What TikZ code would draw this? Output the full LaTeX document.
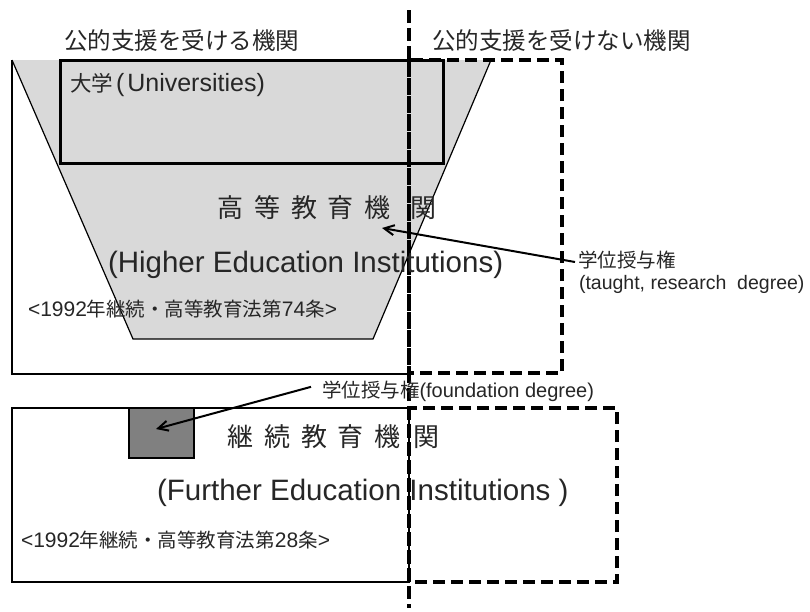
\documentclass[tikz,border=0pt]{standalone}
\usepackage{fontspec}
\setmainfont{Liberation Sans}
\newfontfamily\jp{Noto Sans CJK JP}
\usetikzlibrary{arrows.meta,calc}
\definecolor{lightfill}{HTML}{D9D9D9}
\definecolor{darkfill}{HTML}{808080}
\newcommand{\fsz}[1]{\fontsize{#1}{#1}\selectfont}
\begin{document}
\begin{tikzpicture}[x=1pt,y=-1pt,
  thinline/.style={draw=black,line width=1.2pt},
  univbox/.style={draw=black,line width=3pt},
  dashbox/.style={draw=black,line width=3.5pt,dash pattern=on 12pt off 6pt},
  vdash/.style={draw=black,line width=4pt,dash pattern=on 13pt off 5pt},
  arrowline/.style={draw=black,line width=2pt,-{Straight Barb[length=10pt,width=10pt,line width=2pt]}},
  lbl/.style={inner sep=0pt,outer sep=0pt,text=black!85}]
\useasboundingbox (0,0) rectangle (810,611);
\fill[white] (0,0) rectangle (810,611);
% upper region
\fill[lightfill] (12,60) -- (491,60) -- (373,339) -- (133,339) -- cycle;
\draw[thinline] (12,60) -- (12,374) -- (409,374);
\draw[thinline] (491,60) -- (373,339) -- (133,339) -- (12,60);
\draw[univbox] (60,60) rectangle (443,163);
\draw[dashbox] (409,60) rectangle (562,373);
% lower region
\draw[thinline] (12,408) rectangle (409,582);
\filldraw[fill=darkfill,draw=black,line width=2.5pt] (129,408) rectangle (194,458);
\draw[dashbox] (409,408) rectangle (617,582);
% divider
\draw[vdash] (409,10) -- (409,608);
% texts
\node[lbl,anchor=west] (t1) at (64,41) {\jp\fsz{23.5pt}公的支援を受ける機関};
\node[lbl,anchor=west] (t2) at (432,41) {\jp\fsz{23.5pt}公的支援を受けない機関};
\node[lbl,anchor=base west] (univ) at (70,91) {{\jp\fsz{21.5pt}大学}\hspace{3pt}\fsz{25pt}(\hspace{3pt}Universities)};
\node[lbl,anchor=west] (heiJ) at (217,208) {\jp\fsz{26pt}高\hspace{11pt}等\hspace{11pt}教\hspace{11pt}育\hspace{11pt}機\hspace{20pt}関};
\node[lbl,anchor=base west] (heiE) at (108,272) {\fsz{29.5pt}(Higher Education Institutions)};
\node[lbl,anchor=base west] (law1) at (28,316) {\fsz{21pt}<1992{\jp\fsz{19.5pt}年継続・高等教育法第}74{\jp\fsz{19.5pt}条}>};
\node[lbl,anchor=west] (deg1) at (578,260) {\jp\fsz{19.5pt}学位授与権};
\node[lbl,anchor=base west] (deg1e) at (579,289) {\fsz{19.5pt}(taught, research\ \ degree)};
\node[lbl,anchor=base west] (deg2) at (322,397) {{\jp\fsz{19.5pt}学位授与権}\fsz{20pt}(foundation degree)};
\node[lbl,anchor=west] (feiJ) at (227,437) {\jp\fsz{26pt}継\hspace{11pt}続\hspace{11pt}教\hspace{11pt}育\hspace{11pt}機\hspace{13pt}関};
\node[lbl,anchor=base west] (feiE) at (157,500) {\fsz{29.5pt}(Further Education Institutions )};
\node[lbl,anchor=base west] (law2) at (21,547) {\fsz{21pt}<1992{\jp\fsz{19.5pt}年継続・高等教育法第}28{\jp\fsz{19.5pt}条}>};
% arrows
\coordinate (tip1) at (382,228);
\coordinate (tip2) at (156,429);
\draw[arrowline] ($(deg1.west)+(-3,2)$) -- (tip1);
\draw[arrowline] ($(deg2.west)+(-11,-4)$) -- (tip2);
\end{tikzpicture}
\end{document}
